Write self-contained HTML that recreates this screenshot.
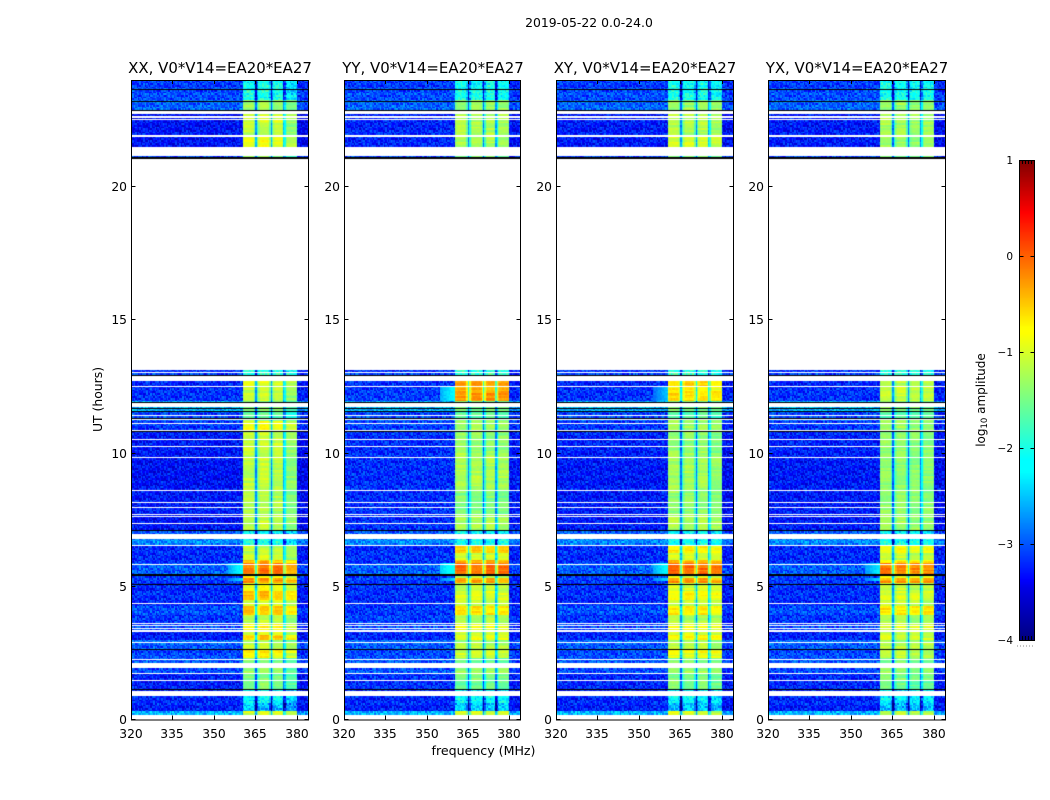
<!DOCTYPE html>
<html>
<head>
<meta charset="utf-8">
<title>2019-05-22 0.0-24.0</title>
<style>
html,body{margin:0;padding:0;background:#fff;}
#figure{position:relative;width:1050px;height:800px;overflow:hidden;background:#fff;font-family:"DejaVu Sans","Liberation Sans",sans-serif;color:#000;}
canvas{position:absolute;display:block;}
svg{position:absolute;left:0;top:0;}
svg text{font-family:"DejaVu Sans","Liberation Sans",sans-serif;fill:#000;}
</style>
</head>
<body>
<div id="figure">
<svg id="overlay" width="1050" height="800"></svg>
</div>
<script>
// Panels
const panelTitles = ["XX, V0*V14=EA20*EA27","YY, V0*V14=EA20*EA27","XY, V0*V14=EA20*EA27","YX, V0*V14=EA20*EA27"];
const panelNames = ["xx","yy","xy","yx"];
// Axis ticks
const freqTicks = [320,335,350,365,380];
const hourTicks = [0,5,10,15,20];
const colorTicks = [1,0,-1,-2,-3,-4];
// Row segments: start hour of each run of similar integrations (null level = no data)
const rowStart = [0.17,0.3,0.6,1.1,1.5,1.73,2.13,2.3,2.5,2.63,2.9,3.0,3.2,3.33,3.64,3.95,4.25,4.5,4.8,5.1,5.25,5.3,5.45,5.85,6.0,6.25,6.55,6.95,7.1,7.7,8.63,10.0,10.83,11.2,11.33,11.58,11.93,12.3,12.5,12.94,13.14,21.08,21.5,21.9,22.4,22.88,23.23,23.67];
// Band level (log10 amplitude) per segment
const xxBand = [-1.0,-2.5,-2.2,-1.45,-1.5,-1.35,-1.45,-0.8,-0.7,-1.1,-1.35,-0.5,-1.0,-0.75,-1.15,-0.5,-1.0,-0.45,-0.85,-0.25,-0.2,-0.8,-0.1,-0.45,-1.05,-1.1,-2.05,-2.15,-1.15,-1.2,-1.15,-1.1,-0.85,-1.35,-1.65,-1.45,-1.1,-1.1,-0.95,-1.9,null,-1.45,-0.9,-1.15,-1.05,-1.3,-2.05,-2.1];
const yyBand = [-1.0,-2.45,-2.15,-1.55,-1.45,-1.3,-1.55,-1.05,-1.05,-1.15,-1.35,-0.9,-1.1,-0.9,-1.2,-0.65,-1.1,-0.95,-1.1,-0.3,-0.35,-1.15,-0.05,-0.4,-1.0,-0.5,-2.05,-2.15,-1.2,-1.45,-1.2,-1.35,-1.25,-1.35,-1.65,-1.45,-0.25,-0.4,-0.3,-1.9,null,-1.45,-1.2,-1.2,-1.2,-1.3,-2.05,-2.1];
const xyBand = [-1.0,-2.45,-2.2,-1.45,-1.5,-1.3,-1.45,-0.9,-0.75,-1.15,-1.35,-0.7,-1.0,-0.9,-1.2,-0.7,-1.1,-0.75,-1.0,-0.25,-0.3,-0.95,-0.05,-0.45,-1.0,-0.7,-2.05,-2.15,-1.2,-1.35,-1.25,-1.35,-1.25,-1.35,-1.65,-1.45,-0.6,-0.75,-0.55,-1.9,null,-1.45,-1.0,-1.2,-1.1,-1.3,-2.05,-2.1];
const yxBand = [-1.1,-2.5,-2.2,-1.55,-1.45,-1.35,-1.45,-1.1,-1.15,-1.15,-1.35,-1.0,-1.15,-1.0,-1.25,-0.65,-1.1,-0.95,-1.1,-0.25,-0.35,-0.95,-0.15,-0.65,-1.1,-0.8,-2.05,-2.15,-1.3,-1.35,-1.35,-1.35,-1.3,-1.35,-1.65,-1.45,-1.05,-1.05,-1.15,-1.9,null,-1.45,-1.3,-1.25,-1.2,-1.3,-2.05,-2.1];
// Background level per segment
const xxBg = [-2.6,-3.25,-3.25,-3.3,-3.3,-3.1,-3.0,-3.05,-3.15,-3.0,-2.85,-3.3,-3.3,-3.1,-3.2,-3.05,-3.2,-3.2,-3.25,-3.15,-3.15,-3.1,-3.0,-3.2,-3.25,-3.2,-2.8,-2.95,-3.35,-3.3,-3.35,-3.3,-3.15,-3.0,-3.1,-2.6,-3.2,-3.2,-3.2,-3.15,null,-3.05,-3.35,-3.35,-3.35,-2.95,-3.05,-3.15];
const yyBg = [-2.6,-3.25,-3.25,-3.2,-3.2,-3.05,-3.0,-3.05,-3.1,-3.0,-2.85,-3.25,-3.2,-3.1,-3.15,-3.15,-3.2,-3.2,-3.2,-3.15,-3.15,-3.1,-3.0,-3.2,-3.2,-3.2,-2.8,-2.95,-3.2,-3.2,-3.2,-3.2,-3.1,-3.0,-3.1,-2.6,-3.15,-3.15,-3.15,-3.15,null,-3.05,-3.25,-3.25,-3.25,-2.95,-3.05,-3.15];
const xyBg = [-2.6,-3.25,-3.25,-3.25,-3.25,-3.1,-3.0,-3.05,-3.1,-3.0,-2.85,-3.25,-3.25,-3.1,-3.2,-3.05,-3.2,-3.2,-3.2,-3.15,-3.15,-3.1,-3.0,-3.2,-3.25,-3.2,-2.8,-2.95,-3.3,-3.3,-3.3,-3.25,-3.15,-3.0,-3.1,-2.6,-3.2,-3.2,-3.2,-3.15,null,-3.05,-3.3,-3.3,-3.3,-2.95,-3.05,-3.15];
const yxBg = [-2.6,-3.25,-3.25,-3.25,-3.25,-3.1,-3.0,-3.05,-3.1,-3.0,-2.85,-3.25,-3.25,-3.1,-3.2,-3.05,-3.2,-3.2,-3.2,-3.15,-3.15,-3.1,-3.0,-3.2,-3.25,-3.2,-2.8,-2.95,-3.3,-3.3,-3.3,-3.25,-3.15,-3.0,-3.1,-2.6,-3.2,-3.2,-3.2,-3.15,null,-3.05,-3.3,-3.3,-3.3,-2.95,-3.05,-3.15];
// Shoulder below the band (355-360 MHz) during bright scans (null = none)
const shoulderFrom = [5.2,5.45,11.93];
const shoulderTo = [5.3,5.85,12.5];
const xxShoulder = [-2.4,-2.2,null];
const yyShoulder = [-2.4,-2.05,-2.2];
const xyShoulder = [-2.4,-2.2,-2.5];
const yxShoulder = [-2.4,-2.3,null];
// Spectral shape of the active band (channels 81-119, 0.5 MHz each)
const bandShape = [-0.1,0,0,0,0,0,0,-0.05,-0.4,-1.6,-0.7,-0.2,0,0,0,0,0,0,-0.05,-0.5,-1.6,-0.6,-0.1,0,0,0,0,0,-0.1,-1.4,-0.8,-0.15,0,0,0,0,0,0,-0.1];
// Sub-band offsets
const xxSub = [0,0.05,0,-0.25];
const yySub = [0,0,0,-0.05];
const xySub = [0,0,0,-0.1];
const yxSub = [0,0,-0.05,-0.05];
// Flagged time ranges (white), start and end hours
const gapFrom = [0,0.9,1.93,3.27,6.76,11.72,12.69,21.13,22.73];
const gapTo = [0.17,1.08,2.13,3.37,6.95,11.88,12.89,21.5,22.82];
const whiteLines = [1.5,1.73,2.26,2.9,3.43,3.54,3.64,4.36,5.84,6.55,7.39,7.64,7.73,7.96,8.18,8.63,9.87,10.27,10.54,10.87,11.14,11.26,11.42,12.5,13.03,21.89,21.95,22.52,22.6,22.66];
const blackLines = [1.13,2.63,5.1,5.43,5.47,7.1,10.83,11.33,11.58,11.69,11.93,12.94,21.06,21.1,22.88,23.23,23.67];
// Hand-read speckle sample
const speckle = [0.3,-0.6,0.9,-0.2,0.5,-0.9,0.1,0.7,-0.4,-0.8,0.6,0.2,-0.1,0.8,-0.7,0.4,-0.3,1.0,-0.5,0.0,0.6,-1.0,0.3,0.5,-0.6,0.8,-0.2,-0.7,0.9,0.1,-0.4,0.4,-0.9,0.7,0.2,-0.3,-0.8,0.5,1.0,-0.1,-0.6,0.3,0.6,-0.5,0.0,-0.9,0.8,0.2,-0.2,0.4,-0.7,0.9,-0.4,0.1,0.7,-1.0,0.5,-0.3,0.3,-0.8,0.6,0.0,-0.5,1.0,-0.1,0.2,-0.6,0.8,-0.9,0.4,0.1,-0.2,0.7,-0.7,0.5,0.3,-0.4,-1.0,0.9,0.0,-0.3,0.6,-0.8,0.2,0.8,-0.5,0.4,-0.1,-0.6,1.0,0.1,-0.9,0.3,0.7,-0.2,0.5,-0.4];
// Jet colormap anchors
const jetPos = [0,0.11,0.125,0.35,0.375,0.64,0.65,0.89,0.91,1];
const jetR = [0,0,0,0,0,1,1,1,0.909,0.5];
const jetG = [0,0,0,1,1,1,1,0,0,0];
const jetB = [0.5,0.909,1,1,1,0,0,0,0,0];

const bandByPanel = [xxBand,yyBand,xyBand,yxBand];
const bgByPanel = [xxBg,yyBg,xyBg,yxBg];
const subByPanel = [xxSub,yySub,xySub,yxSub];
const shoulderByPanel = [xxShoulder,yyShoulder,xyShoulder,yxShoulder];
const panelLeft = [131,344,556,768];
const panelWidth = [177,176,177,177];
const plotTop = 80, plotBottom = 719.5;
const freqMin = 320, freqMax = 384, hourMax = 24;
const cbarLeft = 1019, cbarWidth = 15, cbarTop = 160, cbarBottom = 640;
const colorMin = -4, colorMax = 1;

function xScale(f,w){return (f-freqMin)/(freqMax-freqMin)*w;}
function yScale(h){return plotBottom-h/hourMax*(plotBottom-plotTop);}
function cbarY(v){return cbarBottom-(v-colorMin)/(colorMax-colorMin)*(cbarBottom-cbarTop);}
function interp(arr,t){
  for(let i=1;i<jetPos.length;i++){
    if(t<=jetPos[i]){
      const k=(t-jetPos[i-1])/((jetPos[i]-jetPos[i-1])||1);
      return arr[i-1]+(arr[i]-arr[i-1])*k;
    }
  }
  return arr[arr.length-1];
}
function jetColor(v){
  const t=Math.max(0,Math.min(1,(v-colorMin)/(colorMax-colorMin)));
  return "rgb("+Math.round(interp(jetR,t)*255)+","+Math.round(interp(jetG,t)*255)+","+Math.round(interp(jetB,t)*255)+")";
}
function segmentAt(h){
  let s=-1;
  for(let i=0;i<rowStart.length;i++){if(h>=rowStart[i])s=i;else break;}
  return s;
}
function shoulderAt(p,h){
  for(let i=0;i<shoulderFrom.length;i++){
    if(h>=shoulderFrom[i]&&h<shoulderTo[i])return shoulderByPanel[p][i];
  }
  return null;
}

const svgNS="http://www.w3.org/2000/svg";
const overlay=document.getElementById("overlay");
const figure=document.getElementById("figure");
function line(x1,y1,x2,y2,name,w){
  const l=document.createElementNS(svgNS,"line");
  l.setAttribute("x1",x1);l.setAttribute("y1",y1);l.setAttribute("x2",x2);l.setAttribute("y2",y2);
  l.setAttribute("stroke","#000");l.setAttribute("stroke-width",w||1);
  
  
  overlay.appendChild(l);
  return l;
}
function label(x,y,str,size,anchor,name,rot){
  const t=document.createElementNS(svgNS,"text");
  t.setAttribute("x",x);t.setAttribute("y",y);
  t.setAttribute("font-size",size);t.setAttribute("text-anchor",anchor||"middle");
  if(rot)t.setAttribute("transform","rotate("+rot+" "+x+" "+y+")");
  t.textContent=str;
  
  
  overlay.appendChild(t);
  return t;
}

const colsTotal=128, rowsPerHour=16;
panelTitles.forEach(function(title,p){
  const left=panelLeft[p], w=panelWidth[p];
  const cv=document.createElement("canvas");
  cv.width=w;cv.height=640;
  cv.style.left=left+"px";cv.style.top=plotTop+"px";
  
  
  figure.insertBefore(cv,overlay);
  const g=cv.getContext("2d");
  g.fillStyle="#fff";g.fillRect(0,0,w,640);
  const yOff=plotTop;
  for(let r=0;r<hourMax*rowsPerHour;r++){
    const h=(r+0.5)/rowsPerHour;
    const s=segmentAt(h);
    if(s<0||bandByPanel[p][s]===null)continue;
    const y1=Math.round(yScale((r+1)/rowsPerHour)-yOff), y0=Math.round(yScale(r/rowsPerHour)-yOff);
    const sh=shoulderAt(p,h);
    const base=bandByPanel[p][s];
    for(let c=0;c<colsTotal;c++){
      const tex=speckle[(c*31+r*17+p*23)%speckle.length];
      let v;
      if(c>=81&&c<=119){
        const sub=Math.min(3,Math.floor((c-81)/10));
        const rowJit=speckle[(r*7+sub*13+p*5)%speckle.length];
        const texAmp=base<-1.7?0.35:0.06;
        v=base+bandShape[c-81]+subByPanel[p][sub]+0.14*rowJit+texAmp*tex;
      }else{
        v=bgByPanel[p][s]+0.34*tex+0.05*speckle[(r*11)%speckle.length];
        if(c>=120)v-=0.1;
        if(sh!==null&&c>=70&&c<81)v=sh-0.04*(80-c)+0.08*tex;
      }
      const x0=Math.round(xScale(freqMin+c*0.5,w)), x1=Math.round(xScale(freqMin+(c+1)*0.5,w));
      g.fillStyle=jetColor(v);
      g.fillRect(x0,y1,Math.max(1,x1-x0),Math.max(1,y0-y1));
    }
  }
  g.fillStyle="#fff";
  gapFrom.forEach(function(a,i){
    const y0=Math.round(yScale(gapTo[i])-yOff), y1=Math.round(yScale(a)-yOff);
    g.fillRect(0,y0,w,y1-y0);
  });
  whiteLines.forEach(function(h){g.fillRect(0,Math.round(yScale(h)-yOff),w,1);});
  g.fillStyle="#000";
  blackLines.forEach(function(h){g.fillRect(0,Math.round(yScale(h)-yOff),w,1);});

  // frame
  const rect=document.createElementNS(svgNS,"rect");
  rect.setAttribute("x",left+0.5);rect.setAttribute("y",plotTop+0.5);
  rect.setAttribute("width",w);rect.setAttribute("height",639.5);
  rect.setAttribute("fill","none");rect.setAttribute("stroke","#000");rect.setAttribute("stroke-width","1");
  
  
  overlay.appendChild(rect);
  // ticks and labels
  freqTicks.forEach(function(f){
    const x=Math.round(left+xScale(f,w))+0.5;
    line(x,plotBottom,x,plotBottom-4,panelNames[p]+'-x-tick');
    line(x,plotTop,x,plotTop+4,panelNames[p]+'-x-tick-top');
    label(Math.round(left+xScale(f,w)),738,String(f),12.3,"middle",panelNames[p]+'-x-tick-label');
  });
  hourTicks.forEach(function(hr){
    const y=Math.round(yScale(hr)-0.5)+0.5;
    line(left+0.5,y,left+4.5,y,panelNames[p]+'-y-tick');
    line(left+w+0.5,y,left+w-3.5,y,panelNames[p]+'-y-tick-right');
    label(left-4,y+4.5,String(hr),12.3,"end",panelNames[p]+'-y-tick-label');
  });
  label(left+89,73,title,14.95,"middle",panelNames[p]+'-title');
});

label(589,27,"2019-05-22 0.0-24.0",12.4,"middle","figure-title");
label(102,399.5,"UT (hours)",12.4,"middle","y-axis-title",-90);
label(483.5,755,"frequency (MHz)",12.6,"middle","x-axis-title");

// colorbar
const cb=document.createElement("canvas");
cb.width=cbarWidth;cb.height=cbarBottom-cbarTop;
cb.style.left=cbarLeft+"px";cb.style.top=cbarTop+"px";


figure.insertBefore(cb,overlay);
const cg=cb.getContext("2d");
for(let i=0;i<cb.height;i++){
  cg.fillStyle=jetColor(colorMax-(i+0.5)/cb.height*(colorMax-colorMin));
  cg.fillRect(0,i,cbarWidth,1);
}
const cbFrame=document.createElementNS(svgNS,"rect");
cbFrame.setAttribute("x",cbarLeft+0.5);cbFrame.setAttribute("y",cbarTop+0.5);
cbFrame.setAttribute("width",cbarWidth);cbFrame.setAttribute("height",cbarBottom-cbarTop);
cbFrame.setAttribute("fill","none");cbFrame.setAttribute("stroke","#000");


overlay.appendChild(cbFrame);
colorTicks.forEach(function(v){
  const y=Math.round(cbarY(v))+0.5;
  if(v>colorMin&&v<colorMax){
    line(cbarLeft+0.5,y,cbarLeft+4.5,y,'colorbar-tick');
    line(cbarLeft+cbarWidth+0.5,y,cbarLeft+cbarWidth-3.5,y,'colorbar-tick-right');
  }
  label(cbarLeft-6,y+3.5,(v<0?"\u2212":"")+Math.abs(v),10.5,"end",'colorbar-tick-label');
});
[3,6,9,12].forEach(function(dx){
  line(cbarLeft+dx+0.5,cbarTop,cbarLeft+dx+0.5,cbarTop+4,'colorbar-minor-tick-top');
  line(cbarLeft+dx+0.5,cbarBottom,cbarLeft+dx+0.5,cbarBottom-4,'colorbar-minor-tick-bottom');
});
const dots=line(1017,646,1035,646,'colorbar-dotted-marks');
dots.setAttribute("stroke","#888");
dots.setAttribute("stroke-dasharray","1 2");
const cbLabel=label(985,400,"log",12,"middle","colorbar-title",-90);
const sub10=document.createElementNS(svgNS,"tspan");
sub10.setAttribute("font-size","8.5");
sub10.setAttribute("dy","2");
sub10.textContent="10";


cbLabel.appendChild(sub10);
const rest=document.createElementNS(svgNS,"tspan");
rest.setAttribute("dy","-2");
rest.textContent=" amplitude";


cbLabel.appendChild(rest);
</script>
</body>
</html>
